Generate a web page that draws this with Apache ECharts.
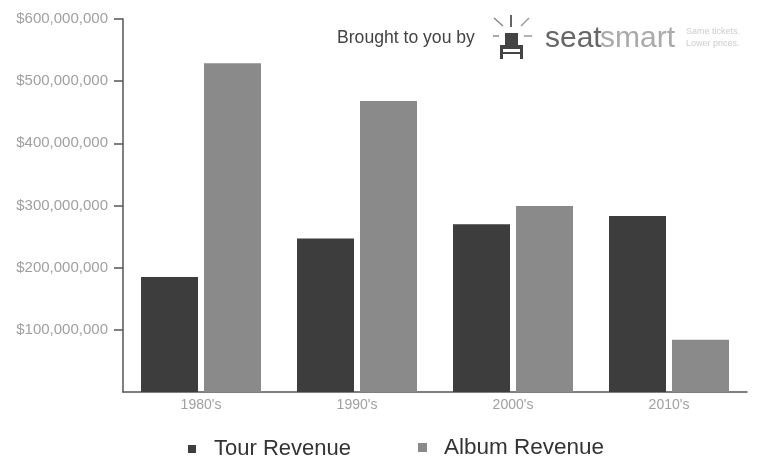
<!DOCTYPE html>
<html><head><meta charset="utf-8">
<style>html,body{margin:0;padding:0;background:#fff}#c{width:763px;height:459px;filter:blur(0.7px)}</style>
<script src="https://cdn.jsdelivr.net/npm/echarts@6/dist/echarts.min.js"></script>
</head><body><div id="c"></div>
<script>
var categories = ["1980's", "1990's", "2000's", "2010's"];
var tourRevenue = [185000000, 247000000, 270000000, 283000000];
var albumRevenue = [529000000, 468000000, 299000000, 84000000];
var tickValues = [100000000, 200000000, 300000000, 400000000, 500000000, 600000000];
var tourColor = '#3d3d3d', albumColor = '#8a8a8a', axisColor = '#555555', tickText = '#a0a0a0';
var chart = echarts.init(document.getElementById('c'), null, {renderer:'canvas'});
function seg(x1,y1,x2,y2,w,c){return {type:'line',shape:{x1:x1,y1:y1,x2:x2,y2:y2},style:{stroke:c||'#777',lineWidth:w||1.5},silent:true};}
function box(x,y,w,h,c){return {type:'rect',shape:{x:x,y:y,width:w,height:h},style:{fill:c||'#3d3d3d'},silent:true};}
function txt(x,y,t,size,c,extra){return {type:'text',x:x,y:y,silent:true,style:Object.assign({text:t,fontFamily:'Liberation Sans',fontSize:size,fill:c,textVerticalAlign:'middle'},extra||{})};}
chart.setOption({
  animation:false,
  backgroundColor:'#ffffff',
  grid:{left:123,top:19,width:624,height:373,containLabel:false},
  xAxis:{type:'category',data:categories,
    axisLine:{lineStyle:{color:axisColor,width:1.5}},axisTick:{show:false},
    axisLabel:{color:tickText,fontSize:14,fontFamily:'Liberation Sans',margin:6}},
  yAxis:{type:'value',min:0,max:600000000,interval:100000000,
    axisLine:{show:true,onZero:false,lineStyle:{color:axisColor,width:1.5}},
    axisTick:{show:true,length:9,customValues:tickValues,lineStyle:{color:axisColor,width:1.5}},
    splitLine:{show:false},
    axisLabel:{color:tickText,fontSize:15,fontFamily:'Liberation Sans',margin:15,padding:[4,0,0,0],
      customValues:tickValues,
      formatter:function(v){return '$'+Number(v).toLocaleString('en-US');}}},
  legend:[
    {data:[{name:'Tour Revenue',itemStyle:{color:tourColor}}],left:183,top:433,itemWidth:8,itemHeight:8,icon:'rect',
      textStyle:{fontSize:22,color:'#333',fontFamily:'Liberation Sans',padding:[0,0,0,13]}},
    {data:[{name:'Album Revenue',itemStyle:{color:albumColor}}],left:413,top:431,itemWidth:9,itemHeight:9,icon:'rect',
      textStyle:{fontSize:22.5,color:'#333',fontFamily:'Liberation Sans',padding:[0,0,0,12]}}
  ],
  series:[
    {name:'Tour Revenue',type:'bar',data:tourRevenue,barWidth:57,barGap:'10.5%',itemStyle:{color:tourColor}},
    {name:'Album Revenue',type:'bar',data:albumRevenue,barWidth:57,itemStyle:{color:albumColor}}
  ],
  graphic:{elements:[
    txt(337,38,'Brought to you by',17.6,'#444'),
    seg(511,15,511,27,2,'#666'), seg(494,18,503,26,1.5,'#888'), seg(529,18,521,26,1.5,'#999'),
    seg(493,36,499,36,1.5,'#888'), seg(524,36,532,36,1.5,'#999'),
    box(505,33,13,12,'#444'), box(500,45,23,4,'#444'), box(500,45,3,14,'#444'), box(520,45,3,14,'#444'), box(503,52,17,2,'#444'),
    txt(545,39,'seat',30,'#666'), txt(600,39,'smart',30,'#aaa'),
    txt(686,32,'Same tickets.',9,'#ccc'), txt(686,44,'Lower prices.',9,'#ccc')
  ]}
});
</script></body></html>
